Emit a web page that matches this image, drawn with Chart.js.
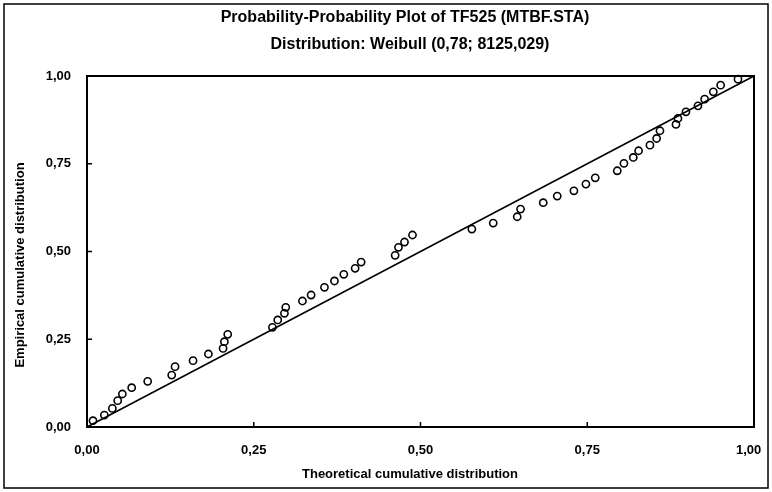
<!DOCTYPE html>
<html>
<head>
<meta charset="utf-8">
<script src="https://cdn.jsdelivr.net/npm/chart.js@4/dist/chart.umd.min.js"></script>
<style>
  html, body { margin: 0; padding: 0; background: #fff; }
  #wrap { width: 772px; height: 492px; position: relative; }
</style>
</head>
<body>
<div id="wrap"><canvas id="c" width="772" height="492"></canvas></div>
<script>
// Theoretical (Weibull) cumulative probabilities of the sorted observations
const theoretical = [
  0.009, 0.026, 0.038, 0.046, 0.053, 0.067, 0.091, 0.127, 0.132, 0.159,
  0.182, 0.204, 0.206, 0.211, 0.278, 0.286, 0.296, 0.298, 0.323, 0.336,
  0.356, 0.371, 0.385, 0.402, 0.411, 0.462, 0.467, 0.476, 0.488, 0.577,
  0.609, 0.645, 0.650, 0.684, 0.705, 0.730, 0.748, 0.762, 0.795, 0.805,
  0.819, 0.827, 0.844, 0.854, 0.859, 0.883, 0.886, 0.898, 0.916, 0.926,
  0.939, 0.950, 0.976
];
// Empirical cumulative probabilities of the same observations
const empirical = [
  0.018, 0.034, 0.053, 0.075, 0.094, 0.112, 0.130, 0.148, 0.172, 0.189,
  0.208, 0.224, 0.243, 0.264, 0.284, 0.305, 0.324, 0.341, 0.359, 0.376,
  0.398, 0.416, 0.435, 0.452, 0.470, 0.489, 0.512, 0.527, 0.547, 0.564,
  0.581, 0.599, 0.621, 0.639, 0.658, 0.673, 0.692, 0.710, 0.730, 0.751,
  0.768, 0.787, 0.803, 0.822, 0.844, 0.862, 0.879, 0.898, 0.915, 0.934,
  0.955, 0.974, 0.991
];
// Reference line y = x
const refLineX = [0, 1];
const refLineY = [0, 1];
// Axis ticks
const tickValues = [0, 0.25, 0.5, 0.75, 1];

const titleText = 'Probability-Probability Plot of TF525 (MTBF.STA)';
const subtitleText = 'Distribution: Weibull (0,78; 8125,029)';
const xTitle = 'Theoretical cumulative distribution';
const yTitle = 'Empirical cumulative distribution';

const FONT = '"Liberation Sans", Arial, sans-serif';

const fmt = v => v.toFixed(2).replace('.', ',');

const decor = {
  id: 'decor',
  beforeDraw(chart) {
    const ctx = chart.ctx;
    ctx.save();
    ctx.fillStyle = '#fff';
    ctx.fillRect(0, 0, chart.width, chart.height);
    ctx.restore();
  },
  afterDraw(chart) {
    const ctx = chart.ctx;
    const a = chart.chartArea;
    const xs = chart.scales.x, ys = chart.scales.y;
    ctx.save();
    // outer frame
    ctx.strokeStyle = '#000';
    ctx.lineWidth = 1.5;
    ctx.strokeRect(4, 4, chart.width - 8, chart.height - 8);
    // plot box
    ctx.lineWidth = 2;
    ctx.strokeRect(a.left, a.top, a.right - a.left, a.bottom - a.top);
    // inward tick marks
    ctx.lineWidth = 1.5;
    tickValues.slice(1, -1).forEach(v => {
      const px = xs.getPixelForValue(v);
      ctx.beginPath(); ctx.moveTo(px, a.bottom); ctx.lineTo(px, a.bottom - 5); ctx.stroke();
      const py = ys.getPixelForValue(v);
      ctx.beginPath(); ctx.moveTo(a.left, py); ctx.lineTo(a.left + 5, py); ctx.stroke();
    });
    // titles
    ctx.fillStyle = '#000';
    ctx.textAlign = 'center';
    ctx.textBaseline = 'middle';
    ctx.font = 'bold 16px ' + FONT;
    ctx.fillText(titleText, 405, 18);
    ctx.fillText(subtitleText, 410, 45);
    ctx.font = 'bold 13px ' + FONT;
    ctx.fillText(xTitle, 410, 474);
    ctx.translate(20, 265);
    ctx.rotate(-Math.PI / 2);
    ctx.fillText(yTitle, 0, 0);
    ctx.restore();
  }
};

const tickFont = { family: FONT, size: 13, weight: 'bold' };

new Chart(document.getElementById('c'), {
  type: 'scatter',
  data: {
    datasets: [
      {
        data: theoretical.map((x, i) => ({ x, y: empirical[i] })),
        showLine: false,
        pointStyle: 'circle',
        pointRadius: 3.6,
        pointBorderWidth: 1.6,
        pointBorderColor: '#000',
        pointBackgroundColor: 'rgba(255,255,255,0)',
        clip: false
      },
      {
        data: refLineX.map((x, i) => ({ x, y: refLineY[i] })),
        showLine: true,
        borderColor: '#000',
        borderWidth: 1.6,
        pointRadius: 0,
        clip: false
      }
    ]
  },
  options: {
    responsive: false,
    animation: false,
    events: [],
    layout: { padding: { top: 76, right: 18, left: 0, bottom: 0 } },
    plugins: { legend: { display: false }, tooltip: { enabled: false } },
    scales: {
      x: {
        type: 'linear', min: 0, max: 1,
        afterFit: s => { s.height = 65; s.paddingLeft = 0; s.paddingRight = 0; },
        afterBuildTicks: s => { s.ticks = tickValues.map(v => ({ value: v })); },
        // last label is kept inside the frame
        ticks: { callback: v => v === 1 ? fmt(v) + '   ' : fmt(v), color: '#000', font: tickFont, padding: 16, maxRotation: 0 },
        grid: { display: false, drawTicks: false },
        border: { display: false }
      },
      y: {
        type: 'linear', min: 0, max: 1,
        afterFit: s => { s.width = 87; s.paddingTop = 0; s.paddingBottom = 0; },
        afterBuildTicks: s => { s.ticks = tickValues.map(v => ({ value: v })); },
        ticks: { callback: v => fmt(v), color: '#000', font: tickFont, padding: 16 },
        grid: { display: false, drawTicks: false },
        border: { display: false }
      }
    }
  },
  plugins: [decor]
});
</script>
</body>
</html>
